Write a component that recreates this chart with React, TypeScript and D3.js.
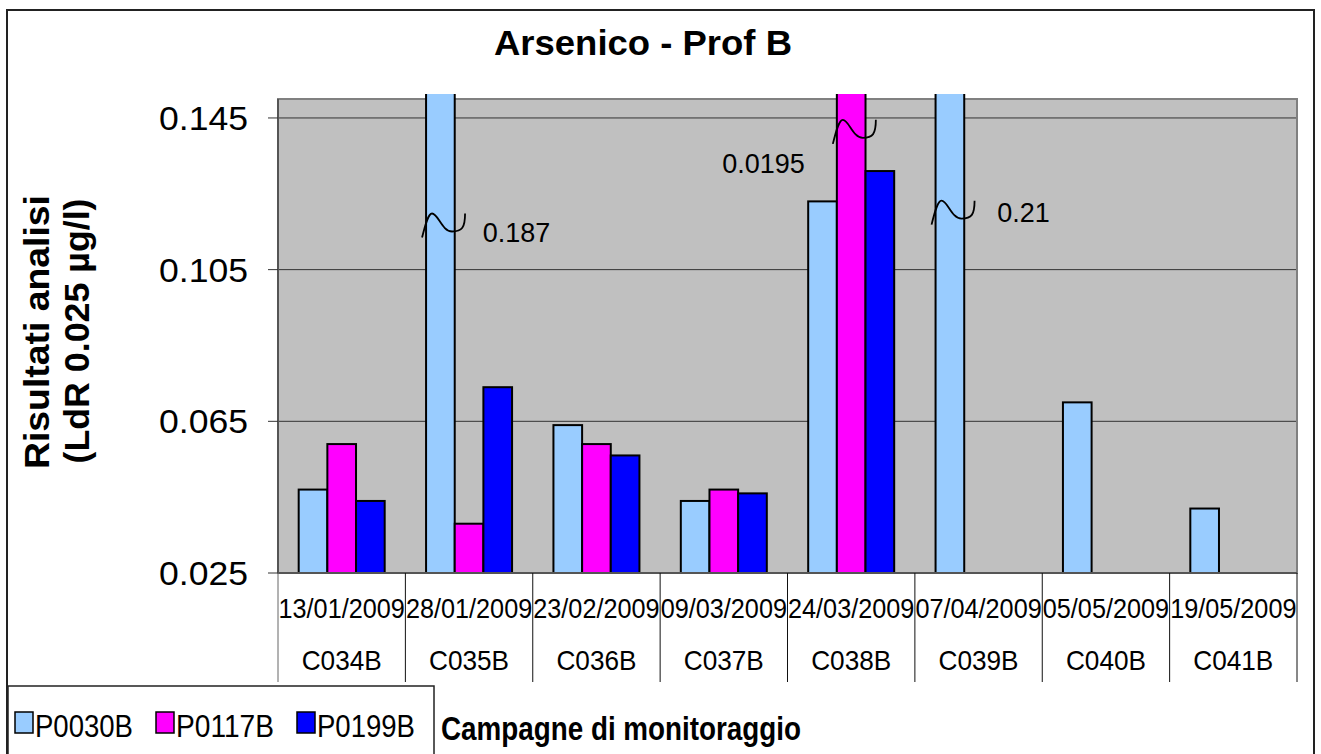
import React from "react";
import * as d3 from "d3";

const dates = ["13/01/2009", "28/01/2009", "23/02/2009", "09/03/2009", "24/03/2009", "07/04/2009", "05/05/2009", "19/05/2009"];
const codes = ["C034B", "C035B", "C036B", "C037B", "C038B", "C039B", "C040B", "C041B"];
const seriesNames = ["P0030B", "P0117B", "P0199B"];
const p0030B: (number | null)[] = [0.047, 0.187, 0.064, 0.044, 0.123, 0.21, 0.07, 0.042];
const p0117B: (number | null)[] = [0.059, 0.038, 0.059, 0.047, 0.195, null, null, null];
const p0199B: (number | null)[] = [0.044, 0.074, 0.056, 0.046, 0.131, null, null, null];
const yTicks = [0.025, 0.065, 0.105, 0.145];
const gridTicks = [0.065, 0.105, 0.145];
// off-scale annotations: category, series, label, value where the break mark sits
const breaks = [
  { code: "C035B", series: "P0030B", label: "0.187", at: 0.1198, side: "right", dx: 28, dy: 28 },
  { code: "C038B", series: "P0117B", label: "0.0195", at: 0.1445, side: "left", dx: -32, dy: 53 },
  { code: "C039B", series: "P0030B", label: "0.21", at: 0.1232, side: "right", dx: 33, dy: 21 },
];

const colors: Record<string, string> = { P0030B: "#99CCFF", P0117B: "#FF00FF", P0199B: "#0000FF" };
const values: Record<string, (number | null)[]> = { P0030B: p0030B, P0117B: p0117B, P0199B: p0199B };

const W = 1321, H = 754;
const plot = { left: 278, right: 1297, top: 99, bottom: 573 };
const FONT = "'Liberation Sans', Arial, Helvetica, sans-serif";

export default function App() {
  const x0 = d3.scaleBand<string>().domain(codes).range([plot.left, plot.right]).padding(0);
  const bw = x0.bandwidth();
  const groupW = 86;
  const x1 = d3.scaleBand<string>().domain(seriesNames).range([(bw - groupW) / 2, (bw + groupW) / 2]).padding(0);
  const y = d3.scaleLinear().domain([0.025, 0.15]).range([plot.bottom, plot.top]);

  const bars: { key: string; x: number; y: number; w: number; h: number; fill: string }[] = [];
  seriesNames.forEach((s) => {
    values[s].forEach((v, i) => {
      if (v == null) return;
      const bx = (x0(codes[i]) as number) + (x1(s) as number);
      const by = y(v);
      bars.push({ key: s + i, x: bx, y: by, w: x1.bandwidth(), h: plot.bottom - by, fill: colors[s] });
    });
  });

  const boundaries = codes.map((c) => x0(c) as number).concat([plot.right]);

  return (
    <svg width={W} height={H} style={{ position: "absolute", left: 0, top: 0, background: "#fff" }} fontFamily={FONT}>
      <defs>
        <clipPath id="barclip">
          <rect x={plot.left} y={plot.top - 5} width={plot.right - plot.left} height={plot.bottom - plot.top + 5} />
        </clipPath>
      </defs>
      {/* outer border */}
      <rect x={7} y={10} width={1307} height={760} fill="#fff" stroke="#222" strokeWidth={2} />
      {/* title */}
      <text x={643} y={55} textAnchor="middle" fontSize={35} fontWeight="bold" textLength={298} lengthAdjust="spacingAndGlyphs">Arsenico - Prof B</text>

      {/* plot area */}
      <rect x={plot.left} y={plot.top} width={plot.right - plot.left} height={plot.bottom - plot.top} fill="#C0C0C0" stroke="#808080" strokeWidth={2} />
      {gridTicks.map((t) => (
        <line key={"g" + t} x1={plot.left} x2={plot.right - 1} y1={y(t)} y2={y(t)} stroke="#333" strokeWidth={1} />
      ))}
      {/* y axis */}
      <line x1={plot.left} x2={plot.left} y1={plot.top} y2={plot.bottom} stroke="#555" strokeWidth={2} />
      {yTicks.map((t) => (
        <g key={"t" + t}>
          <line x1={plot.left - 10} x2={plot.left} y1={y(t)} y2={y(t)} stroke="#333" strokeWidth={1} />
          <text x={248} y={y(t) + 12} textAnchor="end" fontSize={34} textLength={89} lengthAdjust="spacingAndGlyphs">{t.toFixed(3)}</text>
        </g>
      ))}

      {/* bars */}
      <g clipPath="url(#barclip)">
        {bars.map((b) => (
          <rect key={b.key} x={b.x} y={b.y} width={b.w} height={b.h} fill={b.fill} stroke="#000" strokeWidth={2} />
        ))}
      </g>
      {/* x axis */}
      <line x1={plot.left} x2={plot.right} y1={plot.bottom} y2={plot.bottom} stroke="#555" strokeWidth={2} />
      {boundaries.map((bx, i) => (
        <line key={"b" + i} x1={bx} x2={bx} y1={plot.bottom} y2={682} stroke={i === 0 ? "#666" : "#111"} strokeWidth={1} />
      ))}
      {dates.map((d, i) => (
        <text key={"d" + i} x={(x0(codes[i]) as number) + bw / 2} y={618} textAnchor="middle" fontSize={28} textLength={bw - 1} lengthAdjust="spacingAndGlyphs">{d}</text>
      ))}
      {codes.map((c, i) => (
        <text key={"c" + i} x={(x0(c) as number) + bw / 2} y={670} textAnchor="middle" fontSize={28} textLength={80} lengthAdjust="spacingAndGlyphs">{c}</text>
      ))}

      {/* break marks */}
      {breaks.map((b, i) => {
        const bx = (x0(b.code) as number) + (x1(b.series) as number);
        const bwid = x1.bandwidth();
        const Y = y(b.at);
        const p = `M${bx - 4},${Y + 24} C${bx - 1},${Y + 12} ${bx + 2},${Y} ${bx + 6},${Y} C${bx + 12},${Y} ${bx + 16},${Y + 18} ${bx + 26},${Y + 18} C${bx + 36},${Y + 18} ${bx + 39},${Y + 14} ${bx + 39},${Y}`;
        const lx = b.side === "right" ? bx + bwid + b.dx : bx + b.dx;
        return (
          <g key={"br" + i}>
            <path d={p} fill="none" stroke="#000" strokeWidth={1.8} />
            <text x={lx} y={Y + b.dy} textAnchor={b.side === "right" ? "start" : "end"} fontSize={27}>{b.label}</text>
          </g>
        );
      })}

      {/* y axis title */}
      <g transform="translate(49,332) rotate(-90)">
        <text x={0} y={0} textAnchor="middle" fontSize={35} fontWeight="bold" textLength={274} lengthAdjust="spacingAndGlyphs">Risultati analisi</text>
      </g>
      <g transform="translate(89,331) rotate(-90)">
        <text x={0} y={0} textAnchor="middle" fontSize={35} fontWeight="bold" textLength={265} lengthAdjust="spacingAndGlyphs">(LdR 0.025 µg/l)</text>
      </g>

      {/* legend */}
      <rect x={8} y={686} width={426} height={90} fill="#fff" stroke="#222" strokeWidth={1.5} />
      {seriesNames.map((s, i) => {
        const lx = 15 + i * 141;
        return (
          <g key={"l" + s}>
            <rect x={lx} y={712} width={18} height={21} fill={colors[s]} stroke="#000" strokeWidth={1.5} />
            <text x={lx + 20} y={737} fontSize={31} textLength={98} lengthAdjust="spacingAndGlyphs">{s}</text>
          </g>
        );
      })}
      <text x={441} y={740} fontSize={33} fontWeight="bold" textLength={360} lengthAdjust="spacingAndGlyphs">Campagne di monitoraggio</text>
    </svg>
  );
}
